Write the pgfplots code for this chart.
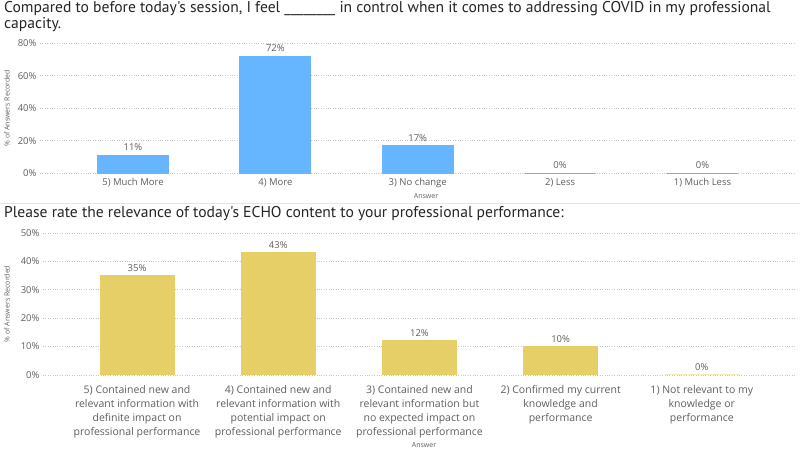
\documentclass[border=0pt]{standalone}
\usepackage{pgfplots}
\pgfplotsset{compat=1.18}
\usepackage{fontspec}
\setmainfont{Open Sans}
\newfontfamily\titlefont{PT Sans}

\definecolor{barblue}{HTML}{66B5FF}
\definecolor{baryellow}{HTML}{E6CF66}
\definecolor{ticktext}{HTML}{605E5C}
\definecolor{titletext}{HTML}{252423}
\definecolor{gridgray}{HTML}{C8C6C4}

\pgfplotsset{
  pbi/.style={
    scale only axis,
    anchor=south west,
    axis line style={draw=none},
    major tick length=0pt,
    ymajorgrids,
    grid style={gridgray, dotted, line width=0.6pt},
    ymin=0,
    xtick=data,
    yticklabel={\pgfmathprintnumber{\tick}\%},
    /pgf/number format/assume math mode=true,
    tick label style={font=\fontsize{9.5}{11}\selectfont, text=ticktext},
    nodes near coords={\pgfmathprintnumber[fixed,precision=0]{\pgfplotspointmeta}\%},
    every node near coord/.append style={font=\fontsize{9.5}{11}\selectfont, text=ticktext, yshift=0.5pt},
    every axis y label/.style={rotate=90, anchor=center, font=\fontsize{7}{8}\selectfont, text=ticktext},
    every axis x label/.style={at={(axis description cs:0,0)}, anchor=center, font=\fontsize{7}{8}\selectfont, text=ticktext},
  }
}

\begin{document}
\begin{tikzpicture}[x=1pt, y=1pt]
  \path[use as bounding box] (0pt,0pt) rectangle (800pt,452pt);

  % titles
  \node[anchor=west, inner sep=0, text=titletext, font=\titlefont\fontsize{15.6}{17}\selectfont] at (4pt,443pt)
    {Compared to before today's session, I feel \_\_\_\_\_\_\_\_ in control when it comes to addressing COVID in my professional};
  \node[anchor=west, inner sep=0, text=titletext, font=\titlefont\fontsize{15.6}{17}\selectfont] at (4pt,427pt) {capacity.};
  \draw[gray!20, line width=0.8pt] (0pt,249pt) -- (800pt,249pt);
  \node[anchor=west, inner sep=0, text=titletext, font=\titlefont\fontsize{15.6}{17}\selectfont] at (4pt,238pt)
    {Please rate the relevance of today's ECHO content to your professional performance:};

  % top chart
  \begin{axis}[pbi,
      at={(40pt,278.7pt)}, width=755pt, height=130pt,
      xmin=-0.653, xmax=4.65,
      ymax=80, ytick={0,20,40,60,80},
      xticklabels={5) Much More, 4) More, 3) No change, 2) Less, 1) Much Less},
      x tick label style={yshift=-1.5pt},
      ylabel={\% of Answers Recorded},
      xlabel={Answer},
      y label style={at={(axis description cs:-0.0437,0.5)}},
      x label style={xshift=386pt, yshift=-23pt},
    ]
    \addplot[ybar, bar width=71pt, fill=barblue, draw=barblue, line width=1pt]
      coordinates {(0,11) (1,72) (2,17) (3,0) (4,0)};
  \end{axis}

  % bottom chart
  \begin{axis}[pbi,
      at={(43pt,77pt)}, width=752pt, height=142pt,
      xmin=-0.666, xmax=4.66,
      ymax=50, ytick={0,10,20,30,40,50},
      xticklabels={
        {5) Contained new and\\relevant information with\\definite impact on\\professional performance},
        {4) Contained new and\\relevant information with\\potential impact on\\professional performance},
        {3) Contained new and\\relevant information but\\no expected impact on\\professional performance},
        {2) Confirmed my current\\knowledge and\\performance},
        {1) Not relevant to my\\knowledge or\\performance}},
      x tick label style={align=center, font=\fontsize{10.5}{13.9}\selectfont, yshift=-7pt},
      ylabel={\% of Answers Recorded},
      xlabel={Answer},
      y label style={at={(axis description cs:-0.0479,0.5)}},
      x label style={xshift=381pt, yshift=-70pt},
    ]
    \addplot[ybar, bar width=74pt, fill=baryellow, draw=baryellow, line width=1pt]
      coordinates {(0,35) (1,43) (2,12) (3,10) (4,0)};
  \end{axis}
\end{tikzpicture}
\end{document}
